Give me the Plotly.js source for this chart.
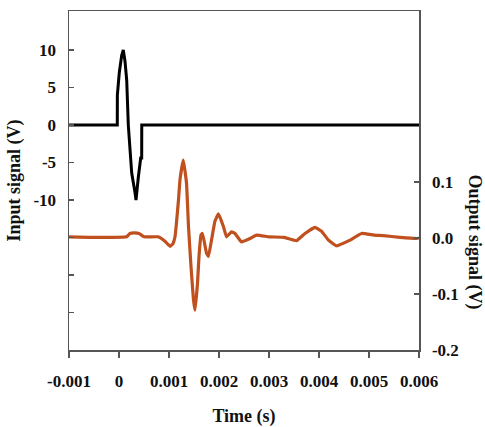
<!DOCTYPE html>
<html>
<head>
<meta charset="utf-8">
<script src="https://cdn.plot.ly/plotly-3.0.1.min.js"></script>
<style>html,body{margin:0;padding:0;background:#fff;}#chart{width:485px;height:427px;}</style>
</head>
<body>
<div id="chart"></div>
<script>
// Input signal (V) vs time (s)
const inputTime = [-0.001, -0.000034, -0.000033, 0.000006, 0.000054, 0.000086, 0.000120, 0.000154, 0.000186, 0.000254, 0.000320, 0.000340, 0.000386, 0.000434, 0.000454, 0.000455, 0.006];
const inputVolt = [0, 0, 4, 7, 9.3, 10, 8.5, 6, 0, -6.4, -9, -10, -7, -4.4, -4.4, 0, 0];

// Output signal (V) vs time (s)
const outputTime = [-0.001, -0.0006, 0.00015, 0.00022, 0.00030, 0.00040, 0.00050, 0.00078, 0.00092, 0.00102, 0.00108, 0.00112, 0.00119, 0.00122, 0.001286, 0.00135, 0.00139, 0.00144, 0.00149, 0.00152, 0.00157, 0.00160, 0.00164, 0.00167, 0.00175, 0.00179, 0.00185, 0.00192, 0.00199, 0.00209, 0.00215, 0.00225, 0.00232, 0.00245, 0.00262, 0.00275, 0.00300, 0.00330, 0.00355, 0.00372, 0.00392, 0.00405, 0.00419, 0.00435, 0.00462, 0.00485, 0.00510, 0.00529, 0.00562, 0.00595, 0.006];
const outputVolt = [0.002, 0.001, 0.002, 0.008, 0.009, 0.008, 0.002, 0.002, -0.006, -0.015, -0.010, 0.002, 0.068, 0.104, 0.139, 0.098, 0.020, -0.051, -0.111, -0.129, -0.081, -0.033, 0.005, 0.008, -0.027, -0.033, -0.004, 0.030, 0.043, 0.020, 0.002, 0.011, 0.008, -0.007, -0.001, 0.005, 0.002, 0.001, -0.005, 0.008, 0.019, 0.012, -0.004, -0.014, -0.004, 0.008, 0.005, 0.004, 0.001, -0.001, 0.0];

const xTickVals = [-0.001, 0, 0.001, 0.002, 0.003, 0.004, 0.005, 0.006];
const xTickText = ['-0.001', '0', '0.001', '0.002', '0.003', '0.004', '0.005', '0.006'];
const yTickVals = [-25, -20, -15, -10, -5, 0, 5, 10];
const yTickText = ['', '', '', '-10', '-5', '0', '5', '10'];
const y2TickVals = [-0.2, -0.1, 0.0, 0.1];
const y2TickText = ['-0.2', '-0.1', '0.0', '0.1'];

const tickFont = {family: 'Liberation Serif', size: 17, color: '#111', weight: 'bold'};
const titleFont = {family: 'Liberation Serif', size: 18, color: '#111', weight: 'bold'};
const axisColor = '#555';

const data = [
  {x: inputTime, y: inputVolt, type: 'scatter', mode: 'lines', name: 'Input',
   line: {color: '#000000', width: 3}, yaxis: 'y'},
  {x: outputTime, y: outputVolt, type: 'scatter', mode: 'lines', name: 'Output',
   line: {color: '#c0501e', width: 3.2, shape: 'spline', smoothing: 0.3}, yaxis: 'y2'}
];

const layout = {
  width: 485, height: 427,
  margin: {l: 69, r: 66, t: 11, b: 77},
  paper_bgcolor: '#fff', plot_bgcolor: '#fff',
  showlegend: false,
  xaxis: {
    range: [-0.001, 0.006], tickvals: xTickVals, ticktext: xTickText,
    showgrid: false, zeroline: false, showline: true, mirror: true,
    linecolor: axisColor, linewidth: 1.5,
    ticks: 'outside', ticklen: 6, tickcolor: axisColor, tickwidth: 1.5,
    tickfont: tickFont, ticklabelstandoff: 9,
    title: {text: 'Time (s)', font: titleFont, standoff: 20}
  },
  yaxis: {
    range: [-30, 15.2], tickvals: yTickVals, ticktext: yTickText,
    showgrid: false, zeroline: false, showline: true,
    linecolor: axisColor, linewidth: 1.5,
    ticks: 'inside', ticklen: 5, tickcolor: axisColor, tickwidth: 1.5,
    tickfont: tickFont, ticklabelstandoff: 8,
    title: {text: 'Input signal (V)', font: titleFont, standoff: 8}
  },
  yaxis2: {
    range: [-0.2, 0.405], tickvals: y2TickVals, ticktext: y2TickText,
    overlaying: 'y', side: 'right',
    showgrid: false, zeroline: false, showline: true,
    linecolor: axisColor, linewidth: 1.5,
    ticks: 'inside', ticklen: 5, tickcolor: axisColor, tickwidth: 1.5,
    tickfont: tickFont, ticklabelstandoff: 8
  },
  annotations: [
    {text: 'Output signal (V)', xref: 'paper', yref: 'paper', x: 1, y: 0.32,
     xanchor: 'center', yanchor: 'middle', xshift: 55, textangle: 90,
     showarrow: false, font: titleFont}
  ]
};

Plotly.newPlot('chart', data, layout, {displayModeBar: false, staticPlot: true});
</script>
</body>
</html>
